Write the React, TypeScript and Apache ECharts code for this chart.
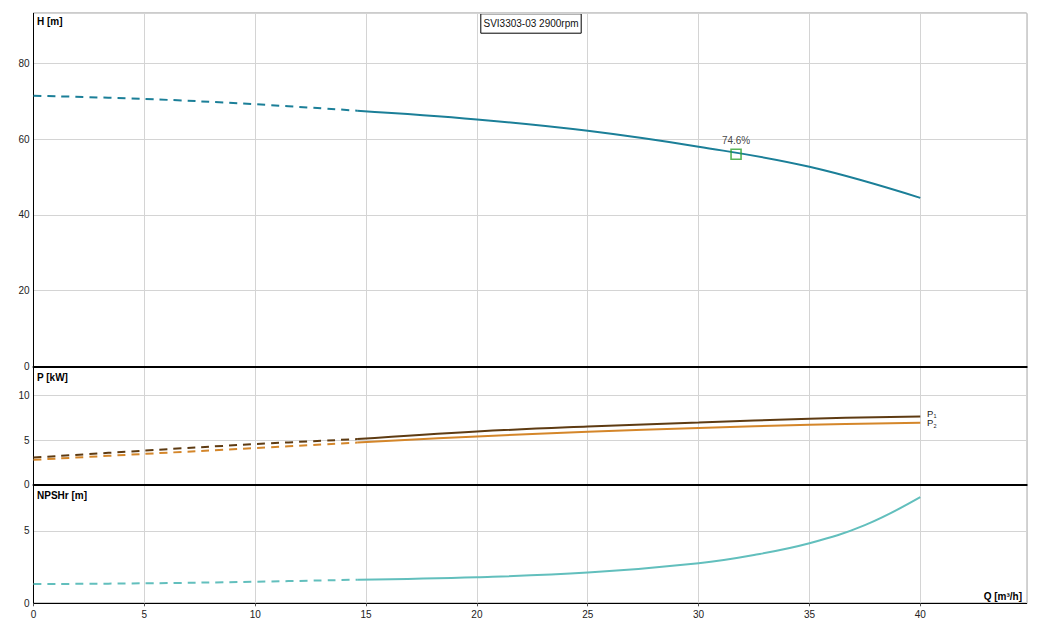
import React, { useEffect, useRef } from "react";
import * as echarts from "echarts";

const Q_PTS = [0, 5, 10, 14.6, 20, 25, 30, 35, 40];
const H_VALS = [71.45, 70.6, 69.2, 67.5, 65.2, 62.2, 58.0, 52.7, 44.5];
const P1_VALS = [3.04, 3.82, 4.55, 5.11, 5.97, 6.53, 6.98, 7.4, 7.66];
const P2_VALS = [2.78, 3.45, 4.1, 4.72, 5.41, 5.94, 6.35, 6.73, 6.95];
const Q_NPSH = [0, 5, 10, 14.6, 20, 25, 30, 32.5, 35, 37.5, 40];
const NPSH_VALS = [1.33, 1.38, 1.49, 1.63, 1.8, 2.12, 2.77, 3.34, 4.15, 5.4, 7.33];
const SPLIT_Q = 14.6;
const BEP = { q: 31.69, h: 56.0, label: "74.6%" };
const TITLE = "SVI3303-03 2900rpm";
const X_MAX = 44.8;
const H_MAX = 93.2;
const P_MAX = 13.27;
const NPSH_MAX = 8.2;

const FONT = "'Liberation Sans', Arial, sans-serif";

function pairs(xs: number[], ys: number[], dashed: boolean) {
  const out: number[][] = [];
  xs.forEach((x, i) => {
    if (dashed ? x <= SPLIT_Q : x >= SPLIT_Q) out.push([x, ys[i]]);
  });
  return out;
}

const L = 33.5;
const R = 1056 - 1026.7;
const T0 = 13.3;
const B0 = 366.5;
const B1 = 484.6;
const B2 = 603.3;

export default function App() {
  const ref = useRef<HTMLDivElement>(null);
  useEffect(() => {
    if (!ref.current) return;
    const chart = echarts.init(ref.current, null, { renderer: "svg" });
    const grid = (top: number, bottom: number) => ({
      left: L,
      right: R,
      top,
      height: bottom - top,
      show: true,
      borderColor: "#000",
      borderWidth: 1,
      backgroundColor: "#fff",
    });
    const splitLine = { show: true, lineStyle: { color: "#d4d4d4", width: 1 } };
    const xAxisBase = (gi: number, showLabels: boolean, lw: number) => ({
      type: "value",
      gridIndex: gi,
      min: 0,
      max: X_MAX,
      interval: 5,
      axisLine: { show: true, lineStyle: { color: "#000", width: lw } },
      axisTick: { show: showLabels, length: 3, lineStyle: { color: "#555" } },
      axisLabel: {
        show: showLabels,
        showMaxLabel: false,
        color: "#222",
        fontSize: 10,
        fontFamily: FONT,
        margin: 6,
      },
      splitLine,
    });
    const yAxisBase = (gi: number, max: number, interval: number) => ({
      type: "value",
      gridIndex: gi,
      min: 0,
      max,
      interval,
      axisLine: { show: true, lineStyle: { color: "#000", width: 1 } },
      axisTick: { show: false },
      axisLabel: {
        showMaxLabel: false,
        color: "#222",
        fontSize: 10,
        fontFamily: FONT,
        margin: 4,
      },
      splitLine,
    });
    const line = (
      name: string,
      xi: number,
      data: number[][],
      color: string,
      dashed: boolean
    ) => ({
      name,
      type: "line",
      xAxisIndex: xi,
      yAxisIndex: xi,
      data,
      smooth: 0.4,
      symbol: "none",
      lineStyle: { color, width: 2, type: dashed ? [8, 6] : "solid" },
      z: 3,
    });
    const H_C = "#1b7f98";
    const P1_C = "#5e3b12";
    const P2_C = "#d4862a";
    const N_C = "#62bfbd";
    const sub = (t: string, x: number, y: number, size: number) => ({
      type: "text",
      x,
      y,
      style: { text: t, fill: "#222", font: `${size}px ${FONT}`, verticalAlign: "middle" },
    });
    chart.setOption({
      animation: false,
      backgroundColor: "#fff",
      grid: [grid(T0, B0), grid(B0, B1), grid(B1, B2)],
      xAxis: [xAxisBase(0, false, 2), xAxisBase(1, false, 2), xAxisBase(2, true, 1)],
      yAxis: [yAxisBase(0, H_MAX, 20), yAxisBase(1, P_MAX, 5), yAxisBase(2, NPSH_MAX, 5)],
      series: [
        line("H dashed", 0, pairs(Q_PTS, H_VALS, true), H_C, true),
        line("H", 0, pairs(Q_PTS, H_VALS, false), H_C, false),
        line("P1 dashed", 1, pairs(Q_PTS, P1_VALS, true), P1_C, true),
        line("P1", 1, pairs(Q_PTS, P1_VALS, false), P1_C, false),
        line("P2 dashed", 1, pairs(Q_PTS, P2_VALS, true), P2_C, true),
        line("P2", 1, pairs(Q_PTS, P2_VALS, false), P2_C, false),
        line("NPSH dashed", 2, pairs(Q_NPSH, NPSH_VALS, true), N_C, true),
        line("NPSH", 2, pairs(Q_NPSH, NPSH_VALS, false), N_C, false),
        {
          name: "BEP",
          type: "scatter",
          xAxisIndex: 0,
          yAxisIndex: 0,
          data: [[BEP.q, BEP.h]],
          symbol: "rect",
          symbolSize: 10,
          itemStyle: { color: "rgba(0,0,0,0)", borderColor: "#2ea02e", borderWidth: 1.6 },
          label: {
            show: true,
            position: "top",
            distance: 3,
            formatter: BEP.label,
            color: "#111",
            fontSize: 10,
            fontFamily: FONT,
          },
          z: 5,
        },
      ],
      graphic: [
        {
          type: "group",
          left: 480.3,
          top: 13.3,
          children: [
            {
              type: "rect",
              shape: { x: 0, y: 0, width: 100.4, height: 19.4 },
              style: { fill: "#fff", stroke: "#000", lineWidth: 1 },
            },
            {
              type: "text",
              x: 50.2,
              y: 9.7,
              style: {
                text: TITLE,
                fill: "#111",
                font: `10px ${FONT}`,
                align: "center",
                verticalAlign: "middle",
              },
            },
          ],
        },
        {
          type: "text",
          x: 37,
          y: 21,
          style: { text: "H [m]", fill: "#000", font: `bold 10px ${FONT}`, verticalAlign: "middle" },
        },
        {
          type: "text",
          x: 37,
          y: 377,
          style: { text: "P [kW]", fill: "#000", font: `bold 10px ${FONT}`, verticalAlign: "middle" },
        },
        {
          type: "text",
          x: 37,
          y: 495,
          style: { text: "NPSHr [m]", fill: "#000", font: `bold 10px ${FONT}`, verticalAlign: "middle" },
        },
        {
          type: "text",
          x: 1022,
          y: 596,
          style: {
            text: "Q [m³/h]",
            fill: "#000",
            font: `bold 10px ${FONT}`,
            align: "right",
            verticalAlign: "middle",
          },
        },
        sub("P", 927, 413, 9.5),
        sub("1", 933.5, 416, 5.5),
        sub("P", 927, 422.5, 9.5),
        sub("2", 933.5, 425.5, 5.5),
      ],
    });
    return () => chart.dispose();
  }, []);
  return (
    <div
      ref={ref}
      style={{ position: "fixed", left: 0, top: 0, width: 1056, height: 627, background: "#fff" }}
    />
  );
}
